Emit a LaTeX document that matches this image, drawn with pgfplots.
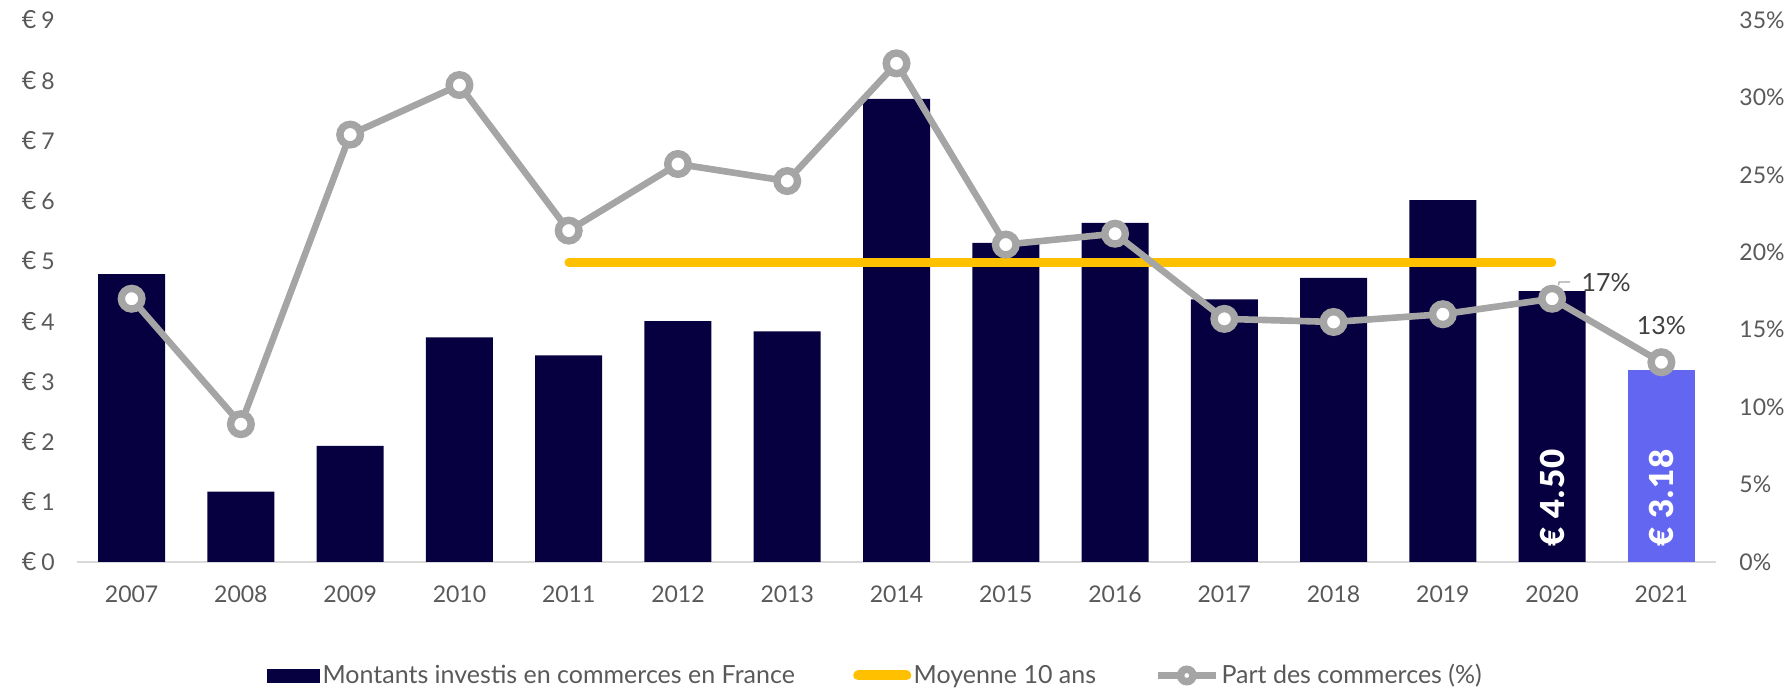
\documentclass[border=0pt]{standalone}
\usepackage{fontspec}
\setmainfont{Lato}
\newfontfamily\barfont[LetterSpace=4]{Lato Black}
\usepackage{pgfplots}
\usepackage{pgfplotstable}
\pgfplotsset{compat=1.18}
\definecolor{navy}{HTML}{060040}
\definecolor{peri}{HTML}{6366F1}
\definecolor{gold}{HTML}{FFC000}
\definecolor{lgrey}{HTML}{A5A5A5}
\definecolor{tgrey}{HTML}{595959}
\definecolor{dgrey}{HTML}{404040}
\definecolor{axgrey}{HTML}{D9D9D9}

\pgfplotstableread{
x val
0 4.78
1 1.17
2 1.93
3 3.73
4 3.43
5 4.00
6 3.83
7 7.69
8 5.30
9 5.63
10 4.36
11 4.72
12 6.01
13 4.50
}\amounts

\pgfplotstableread{
x val
14 3.18
}\amountlast

\pgfplotstableread{
x pct
0 17.0
1 8.9
2 27.6
3 30.8
4 21.4
5 25.7
6 24.6
7 32.2
8 20.5
9 21.2
10 15.7
11 15.5
12 16.0
13 17.0
14 12.9
}\share

\begin{document}
\begin{tikzpicture}
\path[use as bounding box] (-38.5pt,-63.5pt) rectangle (855.5pt,281pt);
\begin{axis}[
  at={(0,0)}, anchor=south west,
  scale only axis, width=819.5pt, height=271pt,
  xmin=-0.5, xmax=14.5, ymin=0, ymax=9,
  axis x line*=bottom, axis y line*=left,
  x axis line style={draw=axgrey, line width=1pt},
  y axis line style={draw=none},
  major tick length=0pt,
  ytick={0,1,...,9},
  xtick={0,1,...,14},
  xticklabels={2007,2008,2009,2010,2011,2012,2013,2014,2015,2016,2017,2018,2019,2020,2021},
  /pgf/number format/assume math mode=true,
  yticklabel={{\fontsize{12.5}{13}\selectfont €}\kern2.5pt\pgfmathprintnumber{\tick}},
  ticklabel style={font=\fontsize{11.5}{13}\selectfont, text=tgrey},
  yticklabel style={anchor=east, inner sep=0pt, xshift=-11pt},
  xticklabel style={anchor=center, inner sep=0pt, yshift=-16pt},
  clip=false,
]
\addplot[ybar, bar width=33.5pt, fill=navy, draw=none] table[x=x, y=val] {\amounts};
\addplot[ybar, bar width=33.5pt, fill=peri, draw=none] table[x=x, y=val] {\amountlast};
\addplot[gold, line width=4.2pt, line cap=round] coordinates {(4,4.97) (13,4.97)};
\node[rotate=90, anchor=west, inner sep=0pt, text=white,
  font=\barfont\fontsize{16.5}{19}\selectfont]
  at (axis cs:13,0.25) {€ 4.50};
\node[rotate=90, anchor=west, inner sep=0pt, text=white,
  font=\barfont\fontsize{16.5}{19}\selectfont]
  at (axis cs:14,0.25) {€ 3.18};
\end{axis}
\begin{axis}[
  at={(0,0)}, anchor=south west,
  scale only axis, width=819.5pt, height=271pt,
  xmin=-0.5, xmax=14.5, ymin=0, ymax=35,
  axis x line=none, axis y line*=right,
  y axis line style={draw=none},
  major tick length=0pt,
  xtick=\empty,
  ytick={0,5,...,35},
  /pgf/number format/assume math mode=true,
  yticklabel={\pgfmathprintnumber{\tick}\%},
  ticklabel style={font=\fontsize{11.5}{13}\selectfont, text=tgrey},
  yticklabel style={anchor=west, inner sep=0pt, xshift=11.5pt},
  clip=false,
  legend columns=3,
  legend style={at={(0.1159,-0.2094)}, anchor=west, draw=none, fill=none, inner sep=0pt,
    font=\fontsize{12.5}{14}\selectfont, text=tgrey,
    nodes={inner xsep=1.2pt, inner ysep=1pt},
    /tikz/every even column/.append style={column sep=28pt}},
]
\addlegendimage{legend image code/.code={\fill[navy] (0pt,-3.25pt) rectangle (26pt,3.25pt);}}
\addlegendentry{Montants investis en commerces en France}
\addlegendimage{legend image code/.code={\draw[gold, line width=5pt, line cap=round] (2.5pt,0pt) -- (26.5pt,0pt);}}
\addlegendentry{Moyenne 10 ans}
\addplot[lgrey, line width=3.3pt, mark=*, mark size=5.15pt,
  mark options={fill=white, draw=lgrey, line width=3.7pt},
  legend image code/.code={\draw[lgrey, line width=3.3pt] (0pt,0pt) -- (29pt,0pt);
     \draw[draw=lgrey, fill=white, line width=3.75pt] (14.5pt,0pt) circle (3.1pt);}]
  table[x=x, y=pct] {\share};
\addlegendentry{Part des commerces (\%)}
\draw[lgrey, line width=0.6pt] (axis cs:13,17) ++(3.2pt,6.8pt) -- ++(0.3pt,1.55pt) -- ++(5.5pt,0pt);
\node[anchor=west, inner sep=0pt, text=dgrey, font=\fontsize{12.5}{14}\selectfont]
  at (axis cs:13,17) [xshift=14.5pt, yshift=7.9pt] {17\%};
\node[anchor=center, inner sep=0pt, text=dgrey, font=\fontsize{12.5}{14}\selectfont]
  at (axis cs:14,12.9) [yshift=18.5pt] {13\%};
\end{axis}
\end{tikzpicture}
\end{document}
